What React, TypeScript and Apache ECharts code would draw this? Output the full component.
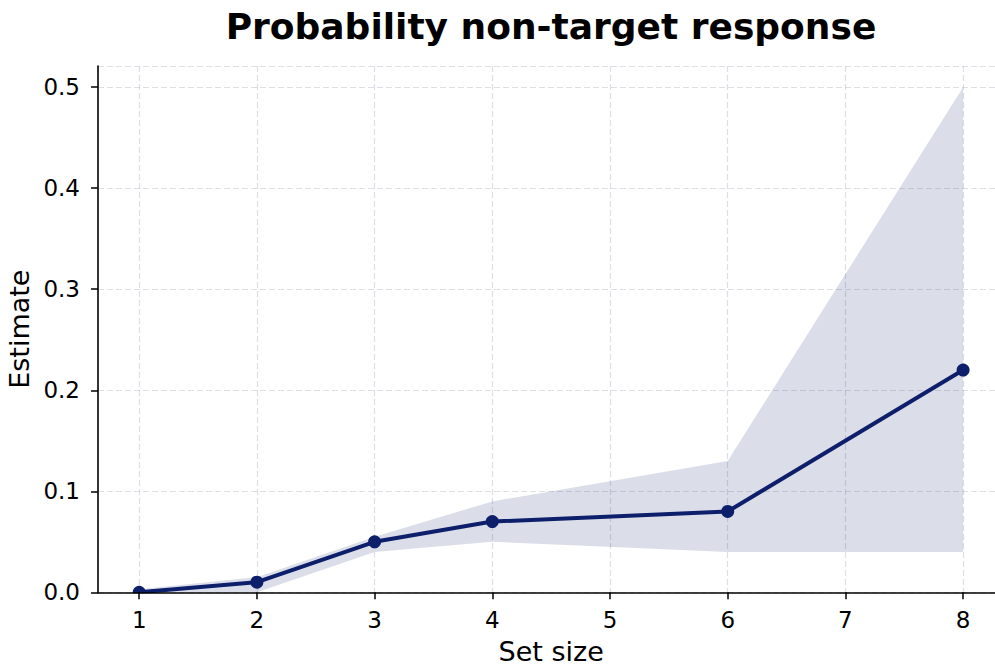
import React, { useEffect, useRef } from "react";
import * as echarts from "echarts";

const setSizes = [1, 2, 3, 4, 6, 8];
const estimates = [0, 0.01, 0.05, 0.07, 0.08, 0.22];
const lowerCI = [0, 0.0, 0.04, 0.05, 0.04, 0.04];
const upperCI = [0.003, 0.015, 0.055, 0.09, 0.13, 0.5];

const xTicks = [1, 2, 3, 4, 5, 6, 7, 8];
const yTicks = [0, 0.1, 0.2, 0.3, 0.4, 0.5];

const NAVY = "#0d1f6b";
const FONT = "DejaVu Sans";

export default function App() {
  const ref = useRef<HTMLDivElement>(null);
  useEffect(() => {
    document.body.style.margin = "0";
    const chart = echarts.init(ref.current!, null, { renderer: "svg" });
    const fmtY = (v: number) => (yTicks.some((t) => Math.abs(t - v) < 1e-6) ? v.toFixed(1) : "");
    const gridLine = { show: true, lineStyle: { color: "rgba(170,176,190,0.4)", type: [6, 3], width: 1.2 } };
    chart.setOption({
      animation: false,
      graphic: [
        {
          type: "text",
          x: 551,
          y: 26,
          style: {
            text: "Probability non-target response",
            font: `bold 36px '${FONT}'`,
            fill: "#000",
            textAlign: "center",
            textVerticalAlign: "middle",
          },
        },
        {
          type: "rect",
          z: 3,
          shape: { x: 99, y: 593.2, width: 896, height: 12 },
          style: { fill: "#fff" },
          silent: true,
        },
      ],
      grid: { left: 98, right: -9.3, top: 66, bottom: 73.7, containLabel: false, outerBoundsMode: "none" },
      xAxis: [
        {
          type: "value",
          min: 0.65,
          max: 8.35,
          z: 4,
          name: "Set size",
          nameLocation: "middle",
          nameGap: 46,
          nameTextStyle: { fontFamily: FONT, fontSize: 27, color: "#000" },
          axisLine: { show: true, onZero: false, lineStyle: { color: "#000", width: 1.6 } },
          axisTick: { show: true, length: 7, customValues: xTicks, lineStyle: { color: "#000", width: 1.5 } },
          axisLabel: { customValues: xTicks, fontFamily: FONT, fontSize: 23, color: "#000", margin: 16 },
          splitLine: { show: false },
        },
        {
          type: "value",
          min: 0.65,
          max: 8.35,
          position: "bottom",
          z: 0,
          axisLine: { show: false },
          axisTick: { show: false, customValues: xTicks },
          axisLabel: { show: false, customValues: xTicks },
          splitLine: gridLine,
        },
      ],
      yAxis: {
        type: "value",
        min: 0,
        max: 0.521,
        interval: 0.1,
        name: "Estimate",
        nameLocation: "middle",
        nameGap: 65,
        nameTextStyle: { fontFamily: FONT, fontSize: 27, color: "#000" },
        axisLine: { show: true, lineStyle: { color: "#000", width: 1.6 } },
        axisTick: { show: true, length: 7, lineStyle: { color: "#000", width: 1.5 } },
        axisLabel: { formatter: fmtY, fontFamily: FONT, fontSize: 23, color: "#000", margin: 18, showMaxLabel: false },
        splitLine: gridLine,
      },
      series: [
        {
          type: "custom",
          name: "95% CI",
          silent: true,
          xAxisIndex: 0,
          data: [[0]],
          renderItem: (params: any, api: any) => {
            const top = setSizes.map((x, i) => api.coord([x, upperCI[i]]));
            const bottom = setSizes.map((x, i) => api.coord([x, lowerCI[i]])).reverse();
            return {
              type: "polygon",
              shape: { points: top.concat(bottom) },
              style: { fill: NAVY, opacity: 0.15 },
            };
          },
          z: 1,
        },
        {
          type: "line",
          name: "Estimate",
          xAxisIndex: 0,
          data: setSizes.map((x, i) => [x, estimates[i]]),
          lineStyle: { color: NAVY, width: 4 },
          itemStyle: { color: NAVY },
          symbol: "circle",
          symbolSize: 13,
          z: 2,
        },
      ],
    });
    return () => chart.dispose();
  }, []);
  return <div ref={ref} style={{ width: 995, height: 666 }} />;
}
